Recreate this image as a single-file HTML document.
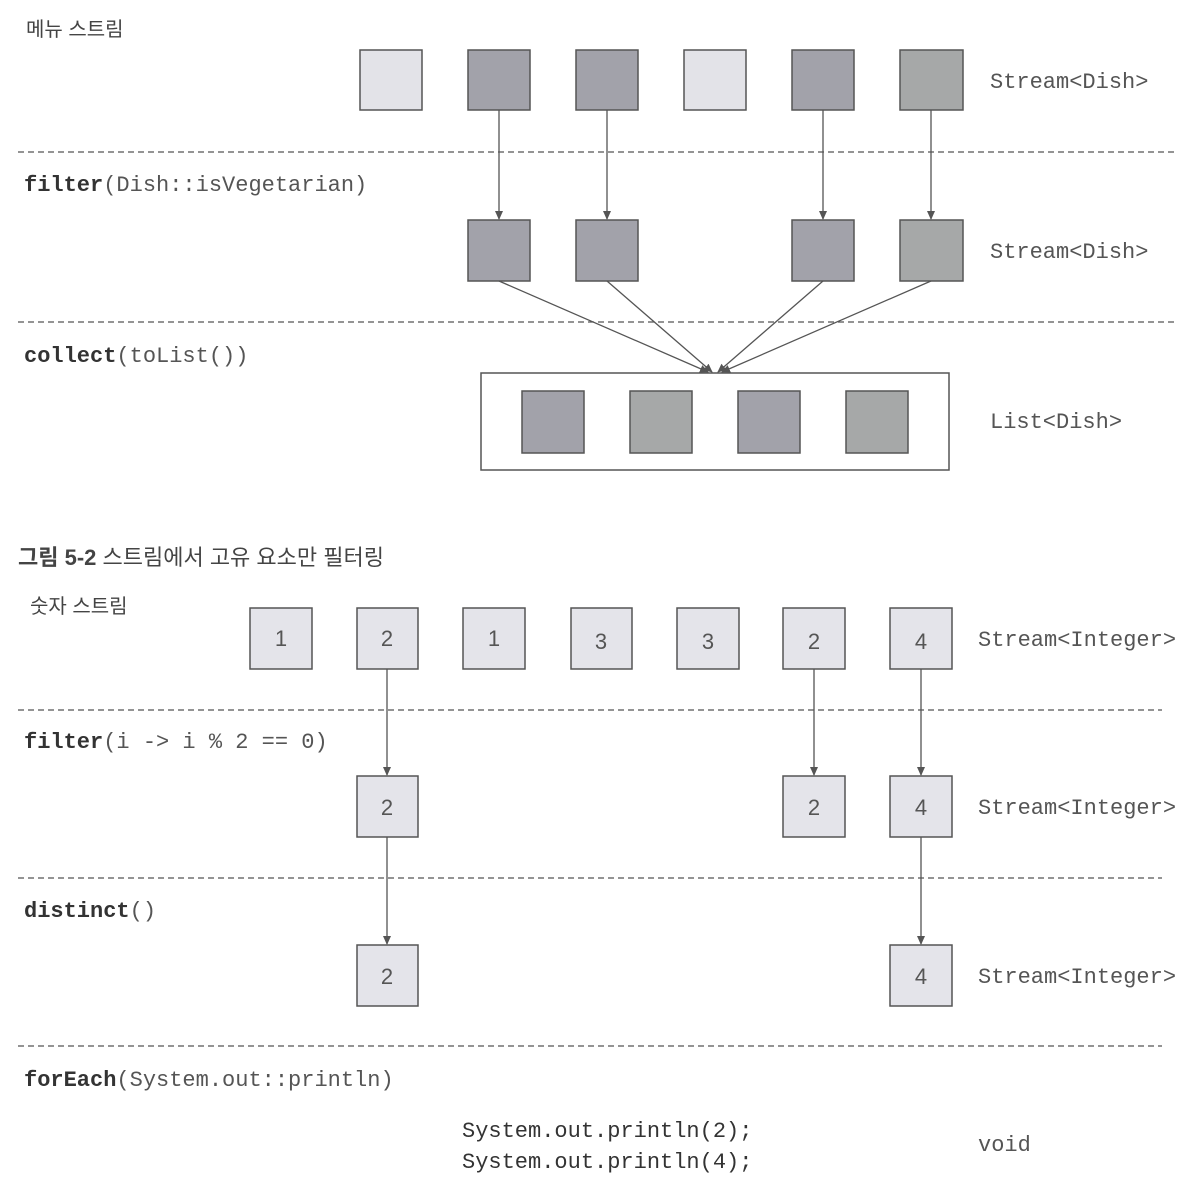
<!DOCTYPE html>
<html><head><meta charset="utf-8"><style>
html,body{margin:0;padding:0;background:#fff}
svg{display:block}
.m{font-family:"Liberation Mono",monospace;font-size:22px;fill:#555}
.b{font-weight:bold;fill:#333}
.k{font-family:"Liberation Sans","Noto Sans CJK KR",sans-serif;fill:#444}
.n{font-family:"Liberation Sans",sans-serif;font-size:22px;fill:#555;text-anchor:middle}
</style></head><body>
<svg width="1204" height="1198" viewBox="0 0 1204 1198" xmlns="http://www.w3.org/2000/svg">
<defs><marker id="a" markerWidth="10" markerHeight="10" refX="8" refY="4" orient="auto" markerUnits="userSpaceOnUse"><path d="M0,0 L9,4 L0,8 z" fill="#555"/></marker></defs>
<g stroke="#555" stroke-width="1.3" stroke-dasharray="6,4" fill="none">
<line x1="18" y1="152" x2="1178" y2="152"/><line x1="18" y1="322" x2="1178" y2="322"/>
<line x1="18" y1="710" x2="1162" y2="710"/><line x1="18" y1="878" x2="1162" y2="878"/><line x1="18" y1="1046" x2="1162" y2="1046"/>
</g>
<text x="26" y="36" class="k" font-size="20">메뉴 스트림</text>
<g stroke="#555" stroke-width="1.5">
<rect x="360" y="50" width="62" height="60" fill="#e3e3e8"/>
<rect x="468" y="50" width="62" height="60" fill="#a2a2aa"/>
<rect x="576" y="50" width="62" height="60" fill="#a2a2aa"/>
<rect x="684" y="50" width="62" height="60" fill="#e3e3e8"/>
<rect x="792" y="50" width="62" height="60" fill="#a2a2aa"/>
<rect x="900" y="50" width="63" height="60" fill="#a6a8a8"/>
<rect x="468" y="220" width="62" height="61" fill="#a2a2aa"/>
<rect x="576" y="220" width="62" height="61" fill="#a2a2aa"/>
<rect x="792" y="220" width="62" height="61" fill="#a2a2aa"/>
<rect x="900" y="220" width="63" height="61" fill="#a6a8a8"/>
<rect x="481" y="373" width="468" height="97" fill="#fff"/>
<rect x="522" y="391" width="62" height="62" fill="#a2a2aa"/>
<rect x="630" y="391" width="62" height="62" fill="#a6a8a8"/>
<rect x="738" y="391" width="62" height="62" fill="#a2a2aa"/>
<rect x="846" y="391" width="62" height="62" fill="#a6a8a8"/>
</g>
<g stroke="#555" stroke-width="1.3" marker-end="url(#a)">
<line x1="499" y1="110" x2="499" y2="219"/><line x1="607" y1="110" x2="607" y2="219"/>
<line x1="823" y1="110" x2="823" y2="219"/><line x1="931" y1="110" x2="931" y2="219"/>
<line x1="499" y1="281" x2="708" y2="372"/><line x1="607" y1="281" x2="712" y2="372"/>
<line x1="823" y1="281" x2="718" y2="372"/><line x1="931" y1="281" x2="722" y2="372"/>
</g>
<text x="990" y="88" class="m">Stream&lt;Dish&gt;</text>
<text x="990" y="258" class="m">Stream&lt;Dish&gt;</text>
<text x="990" y="428" class="m">List&lt;Dish&gt;</text>
<text x="24" y="191" class="m"><tspan class="b">filter</tspan>(Dish::isVegetarian)</text>
<text x="24" y="362" class="m"><tspan class="b">collect</tspan>(toList())</text>
<text x="18" y="565" class="k" font-size="22"><tspan font-weight="bold">그림 5-2</tspan> 스트림에서 고유 요소만 필터링</text>
<text x="30" y="613" class="k" font-size="20">숫자 스트림</text>
<g stroke="#555" stroke-width="1.5" fill="#e4e4ea">
<rect x="250" y="608" width="62" height="61"/><rect x="357" y="608" width="61" height="61"/>
<rect x="463" y="608" width="62" height="61"/><rect x="571" y="608" width="61" height="61"/>
<rect x="677" y="608" width="62" height="61"/><rect x="783" y="608" width="62" height="61"/>
<rect x="890" y="608" width="62" height="61"/>
<rect x="357" y="776" width="61" height="61"/><rect x="783" y="776" width="62" height="61"/><rect x="890" y="776" width="62" height="61"/>
<rect x="357" y="945" width="61" height="61"/><rect x="890" y="945" width="62" height="61"/>
</g>
<text x="281" y="646" class="n">1</text><text x="387" y="646" class="n">2</text><text x="494" y="646" class="n">1</text>
<text x="601" y="649" class="n">3</text><text x="708" y="649" class="n">3</text><text x="814" y="649" class="n">2</text><text x="921" y="649" class="n">4</text>
<text x="387" y="815" class="n">2</text><text x="814" y="815" class="n">2</text><text x="921" y="815" class="n">4</text>
<text x="387" y="984" class="n">2</text><text x="921" y="984" class="n">4</text>
<g stroke="#555" stroke-width="1.3" marker-end="url(#a)">
<line x1="387" y1="669" x2="387" y2="775"/><line x1="814" y1="669" x2="814" y2="775"/><line x1="921" y1="669" x2="921" y2="775"/>
<line x1="387" y1="837" x2="387" y2="944"/><line x1="921" y1="837" x2="921" y2="944"/>
</g>
<text x="978" y="646" class="m">Stream&lt;Integer&gt;</text>
<text x="978" y="814" class="m">Stream&lt;Integer&gt;</text>
<text x="978" y="983" class="m">Stream&lt;Integer&gt;</text>
<text x="24" y="748" class="m"><tspan class="b">filter</tspan>(i -&gt; i % 2 == 0)</text>
<text x="24" y="917" class="m"><tspan class="b">distinct</tspan>()</text>
<text x="24" y="1086" class="m"><tspan class="b">forEach</tspan>(System.out::println)</text>
<text x="462" y="1137" class="m" style="fill:#333">System.out.println(2);</text>
<text x="462" y="1168" class="m" style="fill:#333">System.out.println(4);</text>
<text x="978" y="1151" class="m">void</text>
</svg>
</body></html>
